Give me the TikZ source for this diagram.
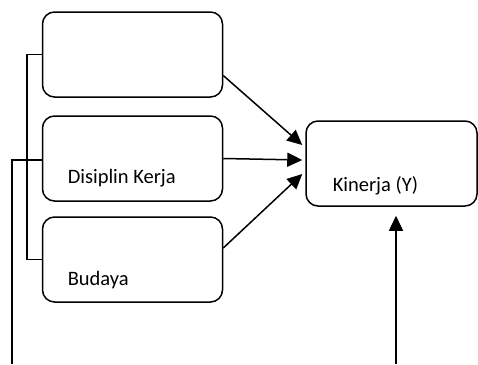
\documentclass[tikz,border=0pt]{standalone}
\usepackage{fontspec}
\setmainfont{Carlito}
\usetikzlibrary{arrows.meta}

\begin{document}
\begin{tikzpicture}[
        x=1pt,y=-1pt,line width=1.5pt,
        font=\fontsize{20.5}{24}\selectfont,
        box/.style={draw,rounded corners=12pt,minimum width=180pt,minimum height=85pt,inner sep=0pt},
        lbl/.style={anchor=base west,inner sep=0pt},
        arr/.style={-{Triangle[length=15pt,width=14pt]}}]

    \useasboundingbox (0,0) rectangle (478,364);

    \node[box] (x1) at (132.5,54.5) {};
    \node[box] (x2) at (132.5,158.5) {};
    \node[box] (x3) at (132.5,259.5) {};
    \node[box,minimum width=171pt] (y) at (391.5,163.5) {};

    \node[lbl] (t2) at (67,183) {Disiplin Kerja};
    \node[lbl] (t3) at (67,285) {Budaya};
    \node[lbl] (ty) at (332,191) {Kinerja (Y)};

    \coordinate (lo) at (12,364);
    \coordinate (up) at (396,364);

    \draw (x1.west) -- ++(-15,0) |- (x3.west);
    \draw ([yshift=-1.5pt]x2.west) -| (lo);

    \draw[arr] ([yshift=-21pt]x1.east) -- ([yshift=18.5pt,xshift=-3pt]y.west);
    \draw[arr] (x2.east) -- ([yshift=3.5pt,xshift=-3pt]y.west);
    \draw[arr] ([yshift=11.5pt]x3.east) -- ([yshift=-10.5pt,xshift=-3pt]y.west);
    \draw[arr] (up) -- ([yshift=-9pt]up |- y.south);
\end{tikzpicture}
\end{document}
